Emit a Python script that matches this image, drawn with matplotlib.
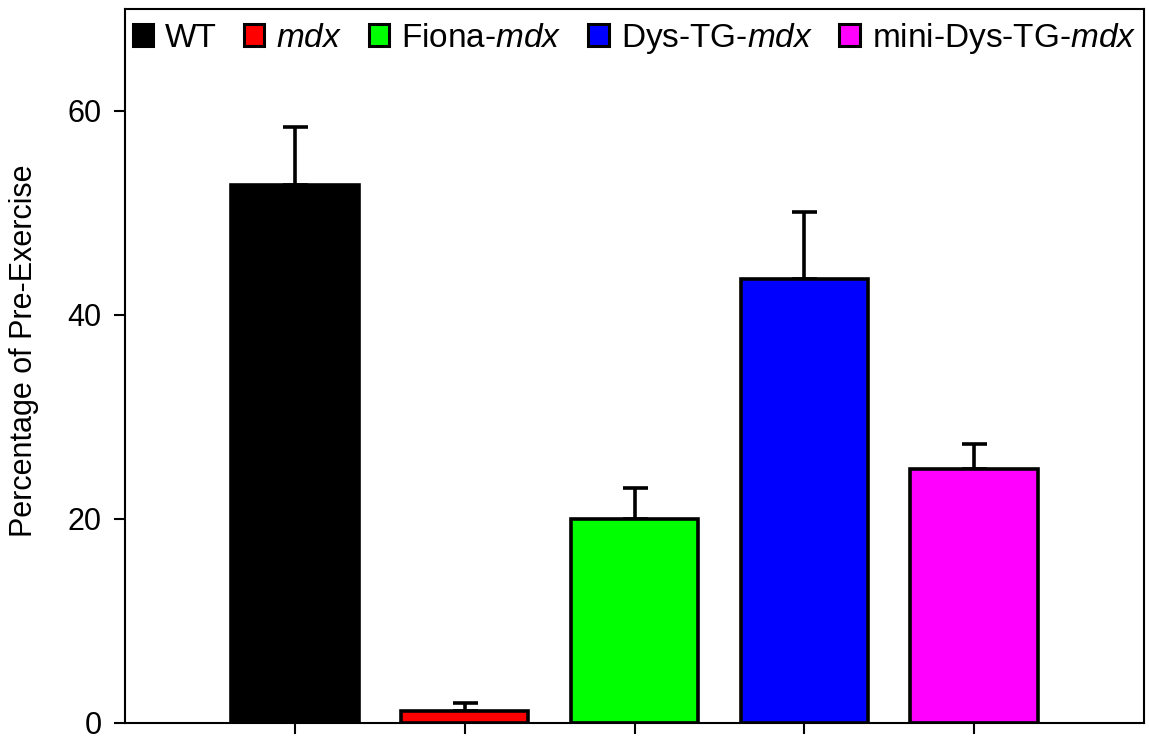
import matplotlib
matplotlib.use("Agg")
import matplotlib.pyplot as plt
from matplotlib.patches import Patch

plt.rcParams['font.family'] = ['Liberation Sans', 'DejaVu Sans']
plt.rcParams['mathtext.fontset'] = 'custom'
plt.rcParams['mathtext.rm'] = 'Liberation Sans'
plt.rcParams['mathtext.it'] = 'Liberation Sans:italic'

groups = ['WT', r'$\mathit{mdx}$', r'Fiona-$\mathit{mdx}$', r'Dys-TG-$\mathit{mdx}$', r'mini-Dys-TG-$\mathit{mdx}$']
values = [52.7, 1.2, 20.0, 43.5, 24.9]
errors = [5.7, 0.8, 3.0, 6.6, 2.5]
colors = ['#000000', '#ff0000', '#00ff00', '#0000ff', '#ff00ff']
yticks = [0, 20, 40, 60]

fig = plt.figure(figsize=(11.49, 7.36), dpi=100)
ax = fig.add_axes([125/1149, 1 - 723/736, (1144-125)/1149, (723-9)/736])

x = list(range(len(values)))
ax.bar(x, values, width=0.75, color=colors, edgecolor='black', linewidth=2.6, zorder=2)
ax.errorbar(x, values, yerr=[[0]*len(errors), errors], fmt='none', ecolor='black',
            elinewidth=2.6, capsize=9, capthick=2.6, zorder=1)

ax.set_xlim(-1, 5)
ax.set_ylim(0, 70)
ax.set_yticks(yticks)
ax.set_xticks(x)
ax.set_xticklabels([])
ax.tick_params(axis='both', direction='out', length=8, width=1.5, labelsize=22, pad=9)
for s in ax.spines.values():
    s.set_linewidth(1.5)
ax.set_ylabel('Percentage of Pre-Exercise', fontsize=22)
ax.yaxis.set_label_coords(-0.084, 0.522)

handles = [Patch(facecolor=c, edgecolor='black', linewidth=2.2) for c in colors]
leg = ax.legend(handles, groups, loc='upper center', ncol=5, frameon=False,
                fontsize=24, handlelength=0.62, handleheight=0.62, handletextpad=0.35,
                columnspacing=0.8, bbox_to_anchor=(0.5, 1.016), borderaxespad=0.3)

fig.savefig('out.png', dpi=100)
